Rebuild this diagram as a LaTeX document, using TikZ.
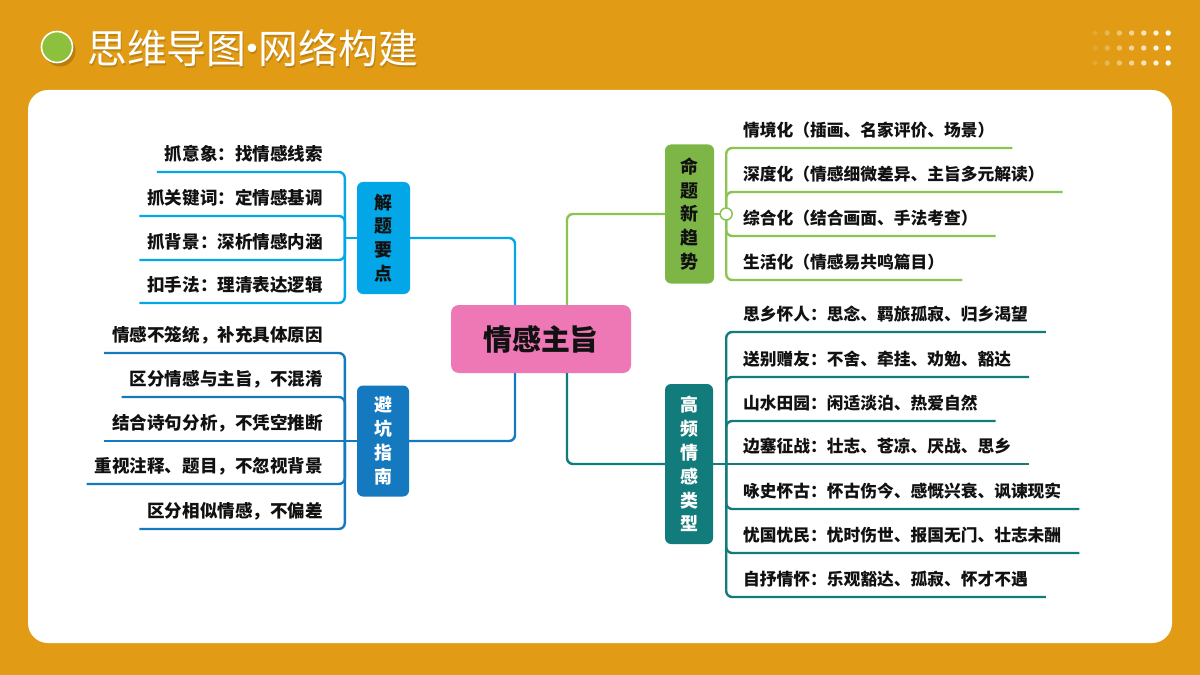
\documentclass[tikz,border=0pt]{standalone}
\usepackage{fontspec}
\setmainfont{Noto Sans CJK SC}
\usetikzlibrary{calc}
\usetikzlibrary{positioning}

\definecolor{bgorange}{HTML}{E19B14}
\definecolor{dotgreen}{HTML}{8DC03C}
\definecolor{pinkc}{HTML}{EE77B5}
\definecolor{skyc}{HTML}{03A6E6}
\definecolor{navyc}{HTML}{1479BF}
\definecolor{grassc}{HTML}{7DB646}
\definecolor{grassl}{HTML}{8CC454}
\definecolor{tealc}{HTML}{127B7B}
\definecolor{inkc}{HTML}{111111}

\begin{document}
\begin{tikzpicture}[x=1bp, y=-1bp,
    conn/.style={line width=2.4bp, rounded corners=6bp},
    itemL/.style={anchor=south east, inner xsep=8bp, inner ysep=11bp, text depth=0bp,
        text=inkc, font=\bfseries\fontsize{17.6}{20}\selectfont},
    itemR/.style={anchor=south west, inner xsep=18bp, inner ysep=11bp, text depth=0bp,
        text=inkc, font=\bfseries\fontsize{16.8}{20}\selectfont},
    branch/.style={rounded corners=6bp, inner sep=0pt, align=center,
        font=\bfseries\fontsize{18}{24}\selectfont}]

        % background and panel
        \useasboundingbox (0,0) rectangle (1200,675);
        \fill[bgorange] (0,0) rectangle (1200,675);
        \fill[white, rounded corners=20bp] (28,90) rectangle (1172,643);

        % title
        \fill[black, opacity=0.18] (60,51) circle (15.5);
        \node[circle, fill=dotgreen, draw=white, line width=1.6bp, minimum size=31bp, inner sep=0pt] (bullet) at (57,47) {};
        \node[anchor=west, text=black, opacity=0.15, inner sep=0pt, font=\fontsize{40}{40}\selectfont] (titleshade) at (88,50) {思维导图\makebox[12bp]{·}网络构建};
        \node[anchor=west, text=white, inner sep=0pt, font=\fontsize{40}{40}\selectfont] (title) at (87,48.5) {思维导图\makebox[12bp]{·}网络构建};

        % dots top right
        \foreach \i in {0,...,6}
            \foreach \j in {0,1,2}
                \fill[white, opacity=0.12+0.88*\i/6] (1095+12.2*\i, 33+15*\j) circle (2.7);

        % main topic
        \node[fill=pinkc, rounded corners=8bp, minimum width=180bp, minimum height=68bp, text=inkc,
            font=\bfseries\fontsize{29}{29}\selectfont] (center) at (541,339) {情感主旨};

        % branches
        \node[branch, fill=skyc, text=inkc, minimum width=53bp, minimum height=112bp] (jieti) at (383.5,238) {解\\题\\要\\点};
        \node[branch, fill=navyc, text=white, minimum width=52bp, minimum height=111bp] (bikeng) at (383,441) {避\\坑\\指\\南};
        \node[branch, fill=grassc, text=inkc, minimum width=49bp, minimum height=139bp] (mingti) at (689.5,214) {命\\题\\新\\趋\\势};
        \node[branch, fill=tealc, text=white, minimum width=48bp, minimum height=160bp] (gaopin) at (689,464) {高\\频\\情\\感\\类\\型};

        % main topic to branches
        \draw[conn, skyc] ([xshift=-26bp]center.north) |- (jieti.east);
        \draw[conn, navyc] ([xshift=-26bp]center.south) |- (bikeng.east);
        \draw[conn, grassl] ([xshift=26bp]center.north) |- (mingti.west);
        \draw[conn, tealc] ([xshift=26bp]center.south) |- (gaopin.west);

        % junctions
        \coordinate (jt) at ([xshift=-12bp]jieti.west);
        \coordinate (bk) at ([xshift=-12bp]bikeng.west);
        \coordinate (mt) at ([xshift=12bp]mingti.east);
        \coordinate (gp) at ([xshift=13bp]gaopin.east);

        % solving points
        \node[itemL] (jt1) at (331,172) {抓意象：找情感线索};
        \node[itemL] (jt2) at (331,216) {抓关键词：定情感基调};
        \node[itemL] (jt3) at (331,260) {抓背景：深析情感内涵};
        \node[itemL] (jt4) at (331,303) {扣手法：理清表达逻辑};

        \draw[conn, skyc] (jieti.west) -- (jt);
        \foreach \n in {jt1,jt2,jt3,jt4}
            \draw[conn, skyc] (jt) |- (\n.south west);

        % pitfalls
        \node[itemL] (bk1) at (331,353) {情感不笼统，补充具体原因};
        \node[itemL] (bk2) at (331,397) {区分情感与主旨，不混淆};
        \node[itemL] (bk3) at (331,441) {结合诗句分析，不凭空推断};
        \node[itemL] (bk4) at (331,484) {重视注释、题目，不忽视背景};
        \node[itemL] (bk5) at (331,529) {区分相似情感，不偏差};

        \draw[conn, navyc] (bikeng.west) -- (bk);
        \foreach \n in {bk1,bk2,bk4,bk5}
            \draw[conn, navyc] (bk) |- (\n.south west);
        \draw[conn, navyc] (bk) -- (bk3.south west);

        % new trends
        \node[itemR] (mt1) at (725,148) {情境化（插画、名家评价、场景）};
        \node[itemR] (mt2) at (725,192) {深度化（情感细微差异、主旨多元解读）};
        \node[itemR] (mt3) at (725,236) {综合化（结合画面、手法考查）};
        \node[itemR] (mt4) at (725,280) {生活化（情感易共鸣篇目）};

        \draw[conn, grassl] (mingti.east) -- (mt);
        \foreach \n in {mt1,mt2,mt3,mt4}
            \draw[conn, grassl] (mt) |- (\n.south east);
        \node[circle, draw=grassl, fill=white, line width=1.5bp, minimum size=12bp, inner sep=0pt] (mtknob) at (mt) {};

        % frequent emotion types
        \node[itemR] (gp1) at (725,332) {思乡怀人：思念、羁旅孤寂、归乡渴望};
        \node[itemR] (gp2) at (725,377) {送别赠友：不舍、牵挂、劝勉、豁达};
        \node[itemR] (gp3) at (725,421) {山水田园：闲适淡泊、热爱自然};
        \node[itemR] (gp4) at (725,464) {边塞征战：壮志、苍凉、厌战、思乡};
        \node[itemR] (gp5) at (725,509) {咏史怀古：怀古伤今、感慨兴衰、讽谏现实};
        \node[itemR] (gp6) at (725,553) {忧国忧民：忧时伤世、报国无门、壮志未酬};
        \node[itemR] (gp7) at (725,597) {自抒情怀：乐观豁达、孤寂、怀才不遇};

        \draw[conn, tealc] (gaopin.east) -- (gp);
        \foreach \n in {gp1,gp2,gp3,gp5,gp6,gp7}
            \draw[conn, tealc] (gp) |- (\n.south east);
        \draw[conn, tealc] (gp) -- (gp4.south east);

\end{tikzpicture}
\end{document}
